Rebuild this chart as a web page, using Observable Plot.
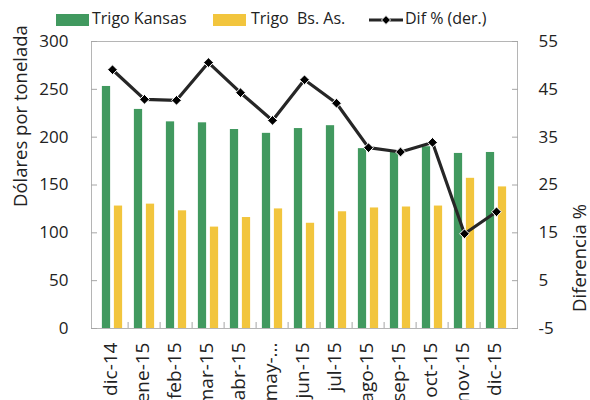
<!DOCTYPE html>
<html>
<head>
<meta charset="utf-8">
<script src="https://cdn.jsdelivr.net/npm/d3@7"></script>
<script src="https://cdn.jsdelivr.net/npm/@observablehq/plot@0.6"></script>
<style>
  body { margin: 0; background: #fff; font-family: "Open Sans", sans-serif; }
  #legend { position: relative; width: 590px; height: 36px; font-size: 16px; color: #222; }
  #legend .sw { position: absolute; top: 14px; width: 33px; height: 12px; }
  #legend .tx { position: absolute; top: 7px; white-space: pre; line-height: 22px; }
  #legend svg { position: absolute; top: 12px; }
  #chart svg { overflow: visible; }
</style>
</head>
<body>
<div id="legend"></div>
<div id="chart"></div>
<script>
const months = ["dic-14","ene-15","feb-15","mar-15","abr-15","may-...","jun-15","jul-15","ago-15","sep-15","oct-15","nov-15","dic-15"];
const kansas = [253, 229, 216, 215, 208, 204, 209, 212, 188, 186, 190, 183, 184];
const bsas   = [128, 130, 123, 106, 116, 125, 110, 122, 126, 127, 128, 157, 148];
const dif    = [49.1, 42.9, 42.7, 50.6, 44.3, 38.5, 47.0, 42.1, 32.8, 31.9, 33.9, 14.8, 19.4];
const leftTicks = [0, 50, 100, 150, 200, 250, 300];
const rightTicks = [-5, 5, 15, 25, 35, 45, 55];
const seriesNames = ["Trigo Kansas", "Trigo  Bs. As.", "Dif % (der.)"];
const yTitleLeft = "Dólares por tonelada";
const yTitleRight = "Diferencia %";
const colors = ["#41995F", "#F2C53D", "#262626"];

// right axis maps [-5,55] onto left axis [0,300]
const toLeft = v => (v + 5) * 5;
const fromLeft = v => v / 5 - 5;

const rows = months.map((m, i) => ({month: m, kansas: kansas[i], bsas: bsas[i], dif: dif[i]}));

// legend
const legend = document.getElementById("legend");
legend.innerHTML = `
  <div class="sw" style="left:56px;background:${colors[0]}"></div>
  <div class="tx" style="left:92px">${seriesNames[0]}</div>
  <div class="sw" style="left:213px;background:${colors[1]}"></div>
  <div class="tx" style="left:251px">${seriesNames[1]}</div>
  <svg width="36" height="16" style="left:368px">
    <line x1="1" y1="8" x2="35" y2="8" stroke="${colors[2]}" stroke-width="3"/>
    <path d="M18,3.5L22.5,8L18,12.5L13.5,8Z" fill="#000" stroke="#fff" stroke-width="1"/>
  </svg>
  <div class="tx" style="left:405px">${seriesNames[2]}</div>
`;

const W = 590, H = 364, mL = 91, mR = 73, mT = 5, mB = 72;
const step = (W - mL - mR) / months.length;
const barW = 9, gap = 3;
const off = (step - (2 * barW + gap)) / 2;

const chart = Plot.plot({
  width: W,
  height: H,
  marginLeft: mL,
  marginRight: mR,
  marginTop: mT,
  marginBottom: mB,
  style: {fontFamily: "Open Sans, sans-serif", fontSize: "17px", color: "#222", background: "#fff"},
  x: {domain: months, padding: 0},
  y: {domain: [0, 300]},
  marks: [
    Plot.barY(rows, {x: "month", y: "kansas", fill: colors[0], insetLeft: off, insetRight: step - off - barW}),
    Plot.barY(rows, {x: "month", y: "bsas", fill: colors[1], insetLeft: off + barW + gap, insetRight: off}),
    Plot.frame({stroke: "#b5b5b5"}),
    Plot.axisY({anchor: "left", ticks: leftTicks, tickSize: -6, tickPadding: 29, stroke: "#a6a6a6", label: null}),
    Plot.axisY({anchor: "right", ticks: rightTicks.map(toLeft), tickFormat: d => fromLeft(d), tickSize: -6, tickPadding: 27, stroke: "#a6a6a6", label: null}),
    Plot.text([yTitleLeft], {frameAnchor: "left", text: d => d, rotate: -90, dx: -70, dy: 22, fontSize: 18.5, fill: "#222"}),
    Plot.text([yTitleRight], {frameAnchor: "right", text: d => d, rotate: -90, dx: 63, dy: 19, fontSize: 18.5, fill: "#222"}),
    Plot.axisX({anchor: "bottom", ticks: months.slice(1), tickSize: -6, tickFormat: () => "", dx: -step / 2, stroke: "#a6a6a6", label: null}),
    Plot.axisX({anchor: "bottom", tickSize: 0, tickPadding: 14, tickRotate: -90, fontSize: 19, dx: -2, label: null}),
    Plot.line(rows, {x: "month", y: d => toLeft(d.dif), stroke: colors[2], strokeWidth: 3.2}),
    Plot.dot(rows, {x: "month", y: d => toLeft(d.dif), symbol: "diamond2", r: 4.4, fill: "#000", stroke: "#fff", strokeWidth: 1})
  ]
});
document.getElementById("chart").appendChild(chart);
</script>
</body>
</html>
